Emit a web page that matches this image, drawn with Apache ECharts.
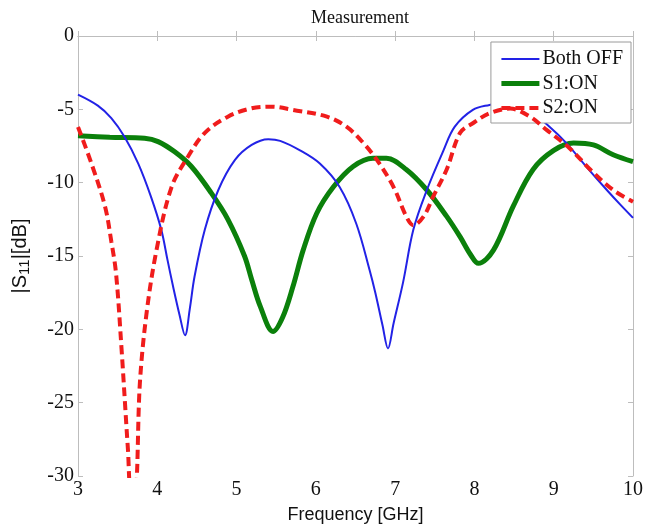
<!DOCTYPE html>
<html><head><meta charset="utf-8">
<script src="https://cdn.jsdelivr.net/npm/echarts@6/dist/echarts.min.js"></script>
<style>html,body{margin:0;padding:0;background:#fff}#c{width:645px;height:529px}</style>
</head><body><div id="c"></div>
<script>
const xTicks = [3, 4, 5, 6, 7, 8, 9, 10];
const yTicks = [0, -5, -10, -15, -20, -25, -30];
const seriesNames = ['Both OFF', 'S1:ON', 'S2:ON'];

const bothOffFreq = [3.0, 3.25, 3.42, 3.59, 3.76, 3.92, 4.05, 4.13, 4.20, 4.28, 4.35, 4.41, 4.47, 4.60, 4.77, 4.98, 5.19, 5.40, 5.55, 5.80, 6.05, 6.30, 6.51, 6.68, 6.75, 6.84, 6.91, 6.98, 7.10, 7.23, 7.40, 7.61, 7.75, 7.98, 8.19, 8.40, 8.65, 8.95, 9.16, 9.41, 9.67, 9.84, 10.0];
const bothOffS11 = [-4.0, -4.75, -5.6, -6.9, -8.7, -10.95, -13.2, -15.3, -17.1, -19.0, -20.4, -18.6, -16.4, -13.2, -10.5, -8.45, -7.43, -7.04, -7.15, -7.8, -8.7, -10.3, -12.8, -16.0, -17.5, -19.7, -21.3, -19.6, -16.8, -13.2, -10.5, -7.8, -6.2, -5.04, -4.7, -4.5, -4.9, -6.2, -7.3, -8.9, -10.5, -11.5, -12.4];

const s1OnFreq = [3.0, 3.4, 3.84, 4.01, 4.22, 4.43, 4.68, 4.89, 5.10, 5.19, 5.30, 5.46, 5.58, 5.71, 5.84, 6.01, 6.22, 6.47, 6.72, 6.89, 7.14, 7.40, 7.65, 7.82, 7.95, 8.05, 8.24, 8.49, 8.74, 9.0, 9.25, 9.50, 9.75, 10.0];
const s1OnS11 = [-6.8, -6.9, -6.97, -7.2, -7.9, -8.9, -10.7, -12.5, -15.0, -16.6, -18.45, -20.15, -19.2, -17.1, -14.6, -12.1, -10.3, -8.9, -8.34, -8.34, -9.1, -10.5, -12.3, -13.7, -14.9, -15.5, -14.6, -11.6, -9.1, -7.8, -7.3, -7.43, -8.1, -8.57];

const s2OnFreq = [3.0, 3.17, 3.34, 3.42, 3.48, 3.55, 3.63, 3.67, 3.72, 3.78, 3.86, 3.99, 4.18, 4.39, 4.60, 4.89, 5.19, 5.44, 5.71, 6.14, 6.39, 6.60, 6.77, 6.98, 7.14, 7.23, 7.36, 7.48, 7.65, 7.82, 7.98, 8.19, 8.45, 8.70, 8.91, 9.20, 9.46, 9.75, 10.0];
const s2OnS11 = [-6.2, -8.7, -11.6, -14.0, -16.2, -21.4, -28.2, -31.0, -31.0, -23.7, -19.1, -14.6, -10.3, -8.2, -6.6, -5.5, -4.93, -4.82, -5.04, -5.5, -6.2, -7.3, -8.45, -10.3, -12.3, -12.9, -12.3, -10.95, -9.1, -6.6, -5.95, -5.27, -4.95, -5.5, -6.4, -7.65, -9.1, -10.5, -11.3];

function pairs(xs, ys) { return xs.map((x, i) => [x, ys[i]]); }

const chart = echarts.init(document.getElementById('c'), null, {renderer: 'canvas'});
const serif = '"Liberation Serif", "DejaVu Serif", serif';
const sans = '"Liberation Sans", Arial, sans-serif';
const colors = ['#2222e6', '#0b800b', '#f01c1c'];
const widths = [2, 5, 4];
const axisCommon = {
  axisLine: {show: true, lineStyle: {color: '#bdbdbd', width: 1}},
  axisTick: {show: true, inside: true, length: 5, lineStyle: {color: '#bdbdbd'}},
  splitLine: {show: false}
};
chart.setOption({
  animation: false,
  backgroundColor: '#fff',
  title: {
    text: 'Measurement', left: 355, top: 4, textAlign: 'center',
    textStyle: {fontFamily: serif, fontSize: 18, fontWeight: 'normal', color: '#111'}
  },
  legend: {
    data: seriesNames.map((n, i) => ({name: n, lineStyle: {width: widths[i]}})),
    orient: 'vertical', right: 14, top: 42,
    backgroundColor: '#fff', borderColor: '#9a9a9a', borderWidth: 1,
    padding: [7, 8, 5, 8], itemGap: 4.5, itemWidth: 38, itemHeight: 14,
    itemStyle: {opacity: 0},
    textStyle: {fontFamily: serif, fontSize: 20, lineHeight: 20, color: '#111', padding: [0, 0, 0, -2]}
  },
  grid: {left: 78, right: 12, top: 36, bottom: 53, containLabel: false, outerBoundsMode: 'none'},
  xAxis: [
    Object.assign({}, axisCommon, {
      type: 'value', min: xTicks[0], max: xTicks[xTicks.length - 1], interval: 1,
      name: 'Frequency [GHz]', nameLocation: 'middle', nameGap: 30,
      nameTextStyle: {fontFamily: sans, fontSize: 18, color: '#111'},
      axisLabel: {fontFamily: serif, fontSize: 20, color: '#111', margin: 4}
    }),
    Object.assign({}, axisCommon, {
      type: 'value', position: 'top', min: xTicks[0], max: xTicks[xTicks.length - 1], interval: 1,
      axisLabel: {show: false}
    })
  ],
  yAxis: [
    Object.assign({}, axisCommon, {
      type: 'value', min: yTicks[yTicks.length - 1], max: yTicks[0], interval: 5,
      name: '|S{sub|11}|[dB]', nameLocation: 'middle', nameGap: 46, nameRotate: 90,
      nameTextStyle: {fontFamily: sans, fontSize: 20, color: '#111',
        rich: {sub: {fontFamily: sans, fontSize: 15, color: '#111', verticalAlign: 'bottom', padding: [8, 0, 0, 0]}}},
      axisLabel: {fontFamily: serif, fontSize: 20, color: '#111', margin: 4}
    }),
    Object.assign({}, axisCommon, {
      type: 'value', position: 'right', min: yTicks[yTicks.length - 1], max: yTicks[0], interval: 5,
      axisLabel: {show: false}
    })
  ],
  series: [
    {name: seriesNames[0], type: 'line', data: pairs(bothOffFreq, bothOffS11), smooth: 0.35,
     symbol: 'none', clip: true, color: colors[0], lineStyle: {color: colors[0], width: widths[0]}, z: 3},
    {name: seriesNames[1], type: 'line', data: pairs(s1OnFreq, s1OnS11), smooth: 0.35,
     symbol: 'none', clip: true, color: colors[1], lineStyle: {color: colors[1], width: widths[1]}, z: 2},
    {name: seriesNames[2], type: 'line', data: pairs(s2OnFreq, s2OnS11), smooth: 0.35,
     symbol: 'none', clip: true, color: colors[2], lineStyle: {color: colors[2], width: widths[2], type: [9, 5]}, z: 4}
  ]
});
</script></body></html>
